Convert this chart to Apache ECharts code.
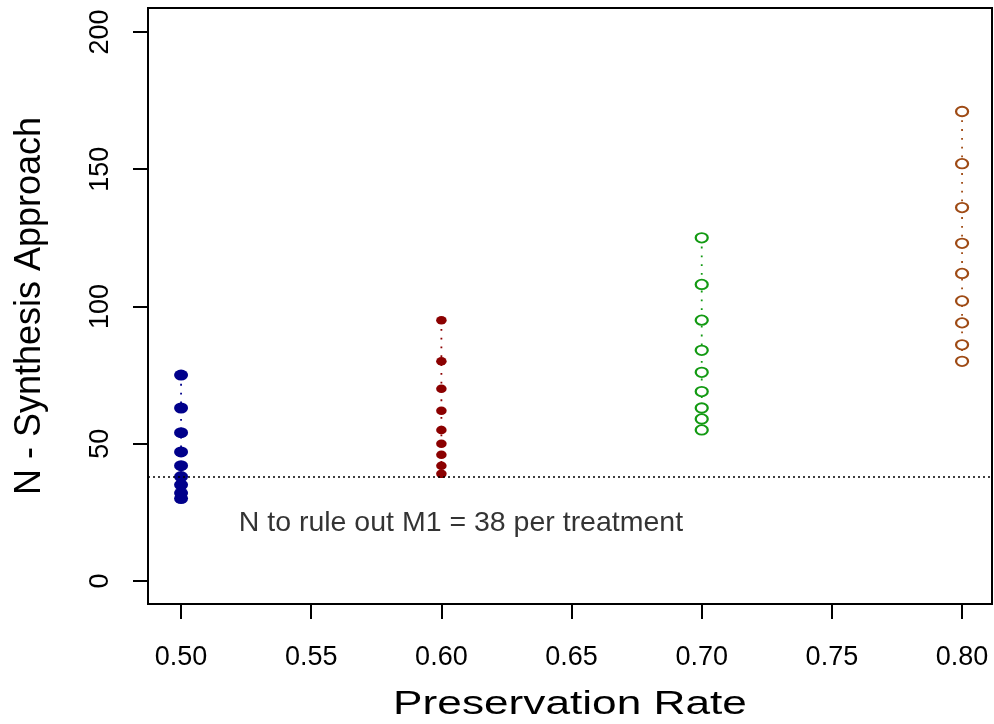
<!DOCTYPE html>
<html>
<head>
<meta charset="utf-8">
<script src="https://cdn.jsdelivr.net/npm/echarts@6/dist/echarts.min.js"></script>
<style>
  html, body { margin: 0; padding: 0; background: #fff; }
  #chart { width: 994px; height: 724px; }
</style>
</head>
<body>
<div id="chart"></div>
<script>
// preservation rates and sample sizes
var rates = [0.50, 0.60, 0.70, 0.80];
var nRate50 = [75, 63, 54, 47, 42, 38, 35, 32, 30];
var nRate60 = [95, 80, 70, 62, 55, 50, 46, 42, 39];
var nRate70 = [125, 108, 95, 84, 76, 69, 63, 59, 55];
var nRate80 = [171, 152, 136, 123, 112, 102, 94, 86, 80];

var xTicks = [0.50, 0.55, 0.60, 0.65, 0.70, 0.75, 0.80];
var yTicks = [0, 50, 100, 150, 200];

var refN = 38;
var noteText = 'N to rule out M1 = 38 per treatment';
var notePos = [0.6075, 21];

var font = 'Liberation Sans, Arial, Helvetica, sans-serif';

function pairs(x, arr) {
    return arr.map(function (v) { return [x, v]; });
}

var chart = echarts.init(document.getElementById('chart'));

function dotSeries(name, x, vals, color, hollow, size) {
    return {
        name: name,
        type: 'line',
        data: pairs(x, vals),
        symbol: hollow ? 'emptyCircle' : 'circle',
        symbolSize: size,
        showSymbol: true,
        animation: false,
        lineStyle: { color: color, width: 1.8, type: [1.8, 7] },
        itemStyle: { color: color, borderWidth: hollow ? 2.4 : 0 },
        z: 3
    };
}

var series = [
    dotSeries('0.50', rates[0], nRate50, '#00008B', false, [14, 11]),
    dotSeries('0.60', rates[1], nRate60, '#8B0000', false, [10.5, 8.5]),
    dotSeries('0.70', rates[2], nRate70, '#139a13', true, [12, 9.5]),
    dotSeries('0.80', rates[3], nRate80, '#9e4a14', true, [12, 9.5])
];

// reference line at N = 38
series[0].markLine = {
    silent: true,
    symbol: ['none', 'none'],
    label: { show: false },
    lineStyle: { color: '#000', width: 1.6, type: [2, 3] },
    data: [{ yAxis: refN }]
};

// annotation text
series.push({
    type: 'scatter',
    data: [notePos],
    symbolSize: 0,
    silent: true,
    animation: false,
    label: {
        show: true,
        position: 'inside',
        formatter: noteText,
        color: '#000',
        textBorderWidth: 0,
        fontSize: 28.5,
        fontFamily: font
    }
});

var option = {
    backgroundColor: '#fff',
    animation: false,
    grid: {
        left: 148, right: 2, top: 8, bottom: 120,
        show: true, borderColor: '#000', borderWidth: 2,
        outerBoundsMode: 'none'
    },
    xAxis: {
        type: 'value',
        min: 0.4873, max: 0.8115,
        axisLine: { show: false, onZero: false },
        splitLine: { show: false },
        axisTick: {
            show: true, inside: false, length: 15,
            lineStyle: { color: '#000', width: 2 },
            customValues: xTicks
        },
        axisLabel: {
            customValues: xTicks,
            margin: 40,
            fontSize: 27,
            fontFamily: font,
            color: '#000',
            formatter: function (v) { return v.toFixed(2); }
        }
    },
    yAxis: {
        type: 'value',
        min: -8.4, max: 208.7,
        name: 'N - Synthesis Approach',
        nameLocation: 'middle',
        nameGap: 100,
        nameTextStyle: { fontSize: 36, fontFamily: font, color: '#000' },
        axisLine: { show: false, onZero: false },
        splitLine: { show: false },
        axisTick: {
            show: true, inside: false, length: 15,
            lineStyle: { color: '#000', width: 2 },
            customValues: yTicks
        },
        axisLabel: {
            customValues: yTicks,
            rotate: 90,
            margin: 34,
            fontSize: 27,
            fontFamily: font,
            color: '#000'
        }
    },
    graphic: [{
        type: 'text',
        x: 570,
        y: 705,
        scaleX: 1.3,
        style: {
            text: 'Preservation Rate',
            fontSize: 34,
            fontFamily: font,
            fill: '#000',
            textAlign: 'center',
            textVerticalAlign: 'middle'
        }
    }],
    series: series
};

chart.setOption(option);
</script>
</body>
</html>
